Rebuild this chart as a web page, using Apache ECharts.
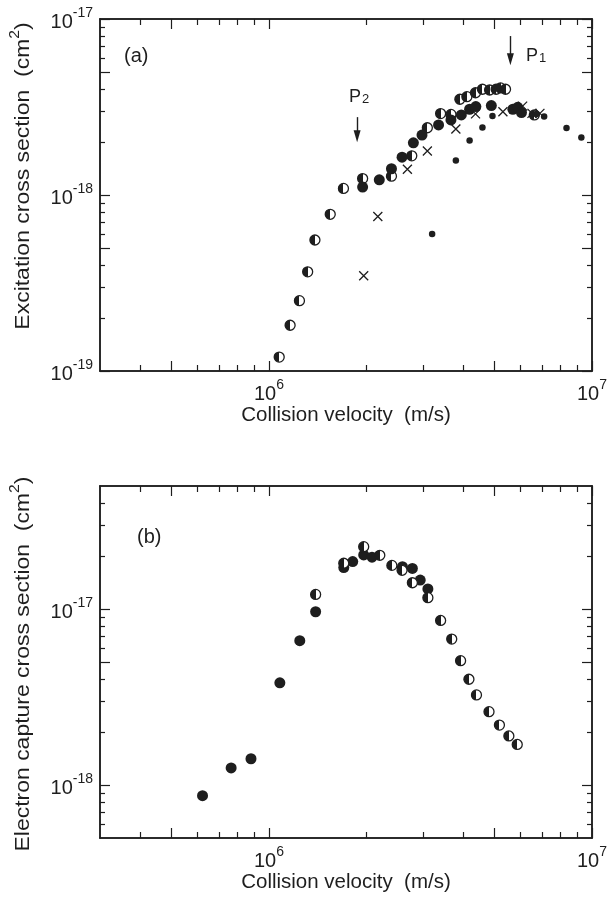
<!DOCTYPE html>
<html><head><meta charset="utf-8">
<script src="https://cdn.jsdelivr.net/npm/echarts@6/dist/echarts.min.js"></script>
<style>html,body{margin:0;padding:0;background:#fff}#c{width:610px;height:908px}</style>
</head><body><div id="c"></div>
<script>
// ---------- data: panel (a) excitation cross section ----------
const aHalfV = [1.076e6,1.163e6,1.243e6,1.318e6,1.388e6,1.548e6,1.701e6,1.950e6,2.395e6,2.768e6,3.093e6,3.40e6,3.66e6,3.90e6,4.10e6,4.36e6,4.58e6,4.82e6,5.05e6,5.21e6,5.40e6,6.63e6];
const aHalfS = [1.20e-19,1.82e-19,2.51e-19,3.66e-19,5.55e-19,7.77e-19,1.09e-18,1.24e-18,1.28e-18,1.67e-18,2.41e-18,2.90e-18,2.87e-18,3.50e-18,3.62e-18,3.81e-18,3.99e-18,3.95e-18,3.99e-18,4.06e-18,3.99e-18,2.85e-18];
const aFullV = [1.950e6,2.196e6,2.395e6,2.583e6,2.80e6,2.977e6,3.35e6,3.66e6,3.94e6,4.18e6,4.37e6,4.88e6,5.69e6,5.89e6,6.05e6];
const aFullS = [1.11e-18,1.22e-18,1.41e-18,1.64e-18,1.98e-18,2.19e-18,2.50e-18,2.67e-18,2.85e-18,3.07e-18,3.18e-18,3.22e-18,3.07e-18,3.15e-18,2.94e-18];
const aCrossV = [1.965e6,2.173e6,2.683e6,3.093e6,3.79e6,4.36e6,5.30e6,6.10e6,6.52e6,6.90e6];
const aCrossS = [3.48e-19,7.55e-19,1.40e-18,1.78e-18,2.37e-18,2.89e-18,2.97e-18,3.20e-18,2.91e-18,2.91e-18];
const aDotV = [3.20e6,3.79e6,4.18e6,4.58e6,4.92e6,6.74e6,7.11e6,8.34e6,9.27e6];
const aDotS = [6.0e-19,1.57e-18,2.04e-18,2.42e-18,2.81e-18,2.89e-18,2.79e-18,2.40e-18,2.12e-18];
// ---------- data: panel (b) electron capture cross section ----------
const bHalfV = [1.395e6,1.705e6,1.965e6,2.204e6,2.402e6,2.583e6,2.78e6,3.105e6,3.40e6,3.68e6,3.92e6,4.16e6,4.39e6,4.80e6,5.17e6,5.53e6,5.87e6];
const bHalfS = [1.21e-17,1.82e-17,2.26e-17,2.02e-17,1.77e-17,1.66e-17,1.41e-17,1.16e-17,8.61e-18,6.75e-18,5.09e-18,3.99e-18,3.25e-18,2.61e-18,2.19e-18,1.90e-18,1.70e-18];
const bFullV = [6.23e5,7.64e5,8.80e5,1.081e6,1.246e6,1.395e6,1.705e6,1.817e6,1.965e6,2.085e6,2.59e6,2.78e6,2.94e6,3.105e6];
const bFullS = [8.70e-19,1.25e-18,1.41e-18,3.81e-18,6.61e-18,9.65e-18,1.72e-17,1.86e-17,2.03e-17,1.97e-17,1.74e-17,1.70e-17,1.46e-17,1.30e-17];
// ---------- axes / ticks ----------
const xRange = [3e5, 1e7];
const xMajor = [5e5, 1e6, 5e6, 1e7];
const xMinor = [4e5, 6e5, 7e5, 8e5, 9e5, 2e6, 3e6, 4e6, 6e6, 7e6, 8e6, 9e6];
const xLabels = [1e6, 1e7];
const aYRange = [1e-19, 1e-17];
const aYMajor = [1e-19, 5e-19, 1e-18, 5e-18, 1e-17];
const aYMinor = [2e-19, 3e-19, 4e-19, 6e-19, 7e-19, 8e-19, 9e-19, 2e-18, 3e-18, 4e-18, 6e-18, 7e-18, 8e-18, 9e-18];
const aYLabels = [1e-19, 1e-18, 1e-17];
const bYRange = [5e-19, 5e-17];
const bYMajor = [1e-18, 5e-18, 1e-17];
const bYMinor = [6e-19, 7e-19, 8e-19, 9e-19, 2e-18, 3e-18, 4e-18, 6e-18, 7e-18, 8e-18, 9e-18, 2e-17, 3e-17, 4e-17];
const bYLabels = [1e-18, 1e-17];
// annotation arrows (velocity, from, to)
const arrowP1 = [5.59e6, 8.0e-18, 5.9e-18];
const arrowP2 = [1.875e6, 2.77e-18, 2.16e-18];
const yTitles = ['Excitation cross section  (cm', 'Electron capture cross section  (cm'];

const FONT = '"Liberation Sans", Arial, Helvetica, sans-serif';
const INK = '#1e1e1e';
const pairs = (v, s) => v.map((x, i) => [x, s[i]]);
const powFmt = v => '{b|10}{s|' + Math.round(Math.log10(v)) + '}';
const labRich = {
  b: {fontSize: 20, lineHeight: 26, verticalAlign: 'bottom', fontFamily: FONT, color: INK},
  s: {fontSize: 14, lineHeight: 14, verticalAlign: 'top', fontFamily: FONT, color: INK}
};

function ax(grid, pos, range, ticks, len, extra) {
  return Object.assign({
    type: 'log', logBase: 10, gridIndex: grid, position: pos, min: range[0], max: range[1],
    axisLine: {show: true, lineStyle: {color: INK, width: 1.5}},
    axisTick: {show: true, inside: true, length: len, customValues: ticks, lineStyle: {color: INK, width: 1.2}},
    axisLabel: {show: false},
    splitLine: {show: false}, minorTick: {show: false}, minorSplitLine: {show: false},
    axisPointer: {show: false}, silent: true
  }, extra || {});
}
function xLab(name) {
  return {
    axisLabel: {show: true, customValues: xLabels, formatter: powFmt, margin: 7, rich: labRich},
    name: name, nameLocation: 'middle', nameGap: 30,
    nameTextStyle: {fontFamily: FONT, fontSize: 20.5, color: INK}
  };
}
function yLab(labels) {
  return {axisLabel: {show: true, customValues: labels, formatter: powFmt, margin: 7, rich: labRich}};
}

const xAxis = [], yAxis = [];
[0, 1].forEach(g => {
  xAxis.push(ax(g, 'bottom', xRange, xMajor, 10, xLab('Collision velocity  (m/s)')));
  xAxis.push(ax(g, 'bottom', xRange, xMinor, 6));
  xAxis.push(ax(g, 'top', xRange, xMajor, 10));
  xAxis.push(ax(g, 'top', xRange, xMinor, 6));
});
[[aYRange, aYMajor, aYMinor, aYLabels], [bYRange, bYMajor, bYMinor, bYLabels]].forEach((c, g) => {
  yAxis.push(ax(g, 'left', c[0], c[1], 10, yLab(c[3])));
  yAxis.push(ax(g, 'left', c[0], c[2], 5));
  yAxis.push(ax(g, 'right', c[0], c[1], 10));
  yAxis.push(ax(g, 'right', c[0], c[2], 5));
});

const halfColor = {type: 'linear', x: 0, y: 0, x2: 1, y2: 0, colorStops: [
  {offset: 0, color: INK}, {offset: 0.5, color: INK}, {offset: 0.5, color: '#fff'}, {offset: 1, color: '#fff'}]};
const half = (g, v, s, extra) => Object.assign({type: 'scatter', xAxisIndex: g * 4, yAxisIndex: g * 4, data: pairs(v, s),
  symbol: 'circle', symbolSize: 10, itemStyle: {color: halfColor, borderColor: INK, borderWidth: 1.3, opacity: 1}, silent: true}, extra || {});
const full = (g, v, s, size) => ({type: 'scatter', xAxisIndex: g * 4, yAxisIndex: g * 4, data: pairs(v, s),
  symbol: 'circle', symbolSize: size, itemStyle: {color: INK, opacity: 1}, silent: true});
const arrowLine = a => [{coord: [a[0], a[1]]}, {coord: [a[0], a[2]]}];

const titleRich = {
  t: {fontSize: 20.5, lineHeight: 26, verticalAlign: 'bottom', fontFamily: FONT, fill: INK},
  s: {fontSize: 14, lineHeight: 14, verticalAlign: 'top', fontFamily: FONT, fill: INK}
};
const subRich = {
  p: {fontSize: 18, lineHeight: 18, verticalAlign: 'top', fontFamily: FONT, fill: INK},
  s: {fontSize: 13, lineHeight: 13, padding: [8, 0, 0, 1], verticalAlign: 'bottom', fontFamily: FONT, fill: INK}
};

const option = {
  animation: false,
  backgroundColor: '#fff',
  grid: [
    {left: 100, top: 19, width: 493, height: 352, containLabel: false},
    {left: 100, top: 486, width: 493, height: 352, containLabel: false}
  ],
  xAxis: xAxis, yAxis: yAxis,
  series: [
    half(0, aHalfV, aHalfS, {markLine: {silent: true, symbol: ['none', 'triangle'], symbolSize: [7, 12],
      lineStyle: {color: INK, width: 1.4, type: 'solid', opacity: 1}, itemStyle: {color: INK}, label: {show: false}, emphasis: {disabled: true},
      data: [arrowLine(arrowP1), arrowLine(arrowP2)]}}),
    full(0, aFullV, aFullS, 11),
    {type: 'scatter', xAxisIndex: 0, yAxisIndex: 0, data: pairs(aCrossV, aCrossS), symbol: 'path://M0,0L10,10M10,0L0,10',
      symbolSize: 9, itemStyle: {color: 'none', borderColor: INK, borderWidth: 1.3, opacity: 1}, silent: true},
    full(0, aDotV, aDotS, 6.5),
    full(1, bFullV, bFullS, 11),
    half(1, bHalfV, bHalfS)
  ],
  graphic: [
    {type: 'text', x: 21, y: 176, rotation: Math.PI / 2, scaleX: 1.12,
      style: {text: '{t|' + yTitles[0] + '}{s|2}{t|)}', rich: titleRich, align: 'center', verticalAlign: 'middle'}},
    {type: 'text', x: 21, y: 664, rotation: Math.PI / 2, scaleX: 1.12,
      style: {text: '{t|' + yTitles[1] + '}{s|2}{t|)}', rich: titleRich, align: 'center', verticalAlign: 'middle'}},
    {type: 'text', x: 124, y: 56, style: {text: '(a)', font: '20px ' + FONT, fill: INK, verticalAlign: 'middle'}},
    {type: 'text', x: 137, y: 537, style: {text: '(b)', font: '20px ' + FONT, fill: INK, verticalAlign: 'middle'}},
    {type: 'text', x: 526, y: 47, style: {text: '{p|P}{s|1}', rich: subRich}},
    {type: 'text', x: 349, y: 88, style: {text: '{p|P}{s|2}', rich: subRich}}
  ]
};
const chart = echarts.init(document.getElementById('c'), null, {renderer: 'canvas'});
chart.setOption(option);
</script></body></html>
